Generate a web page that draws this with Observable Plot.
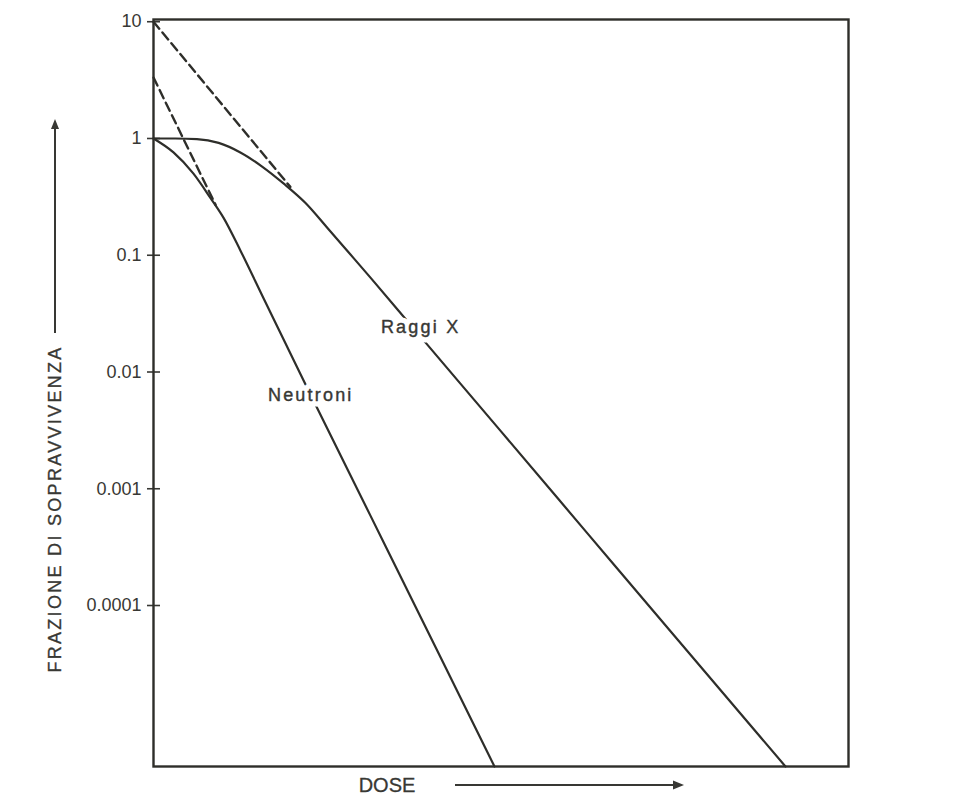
<!DOCTYPE html>
<html>
<head>
<meta charset="utf-8">
<script src="https://cdn.jsdelivr.net/npm/d3@7"></script>
<script src="https://cdn.jsdelivr.net/npm/@observablehq/plot@0.6"></script>
<style>
  body { margin: 0; background: #fff; }
  #chart svg { display: block; }
</style>
</head>
<body>
<div id="chart"></div>
<script>
// Survival curves (fraction surviving vs dose) for X-rays and neutrons
const xrayDose = [0, 0.5, 1, 1.5, 2, 2.5, 3, 3.5, 4, 4.5, 5, 6, 8, 10, 12, 14.55];
const xraySurvival = [1, 0.9999, 0.989, 0.917, 0.759, 0.575, 0.41, 0.28, 0.172, 0.105, 0.064, 0.0233, 0.0031, 0.000411, 0.0000545, 0.00000418];

const neutronDose = [0, 0.46, 0.92, 1.31, 1.61, 2.0, 2.53, 3.5, 5, 6.5, 7.85];
const neutronSurvival = [1, 0.76, 0.50, 0.31, 0.21, 0.11, 0.043, 0.0078, 0.000583, 0.0000435, 0.00000418];

// Back-extrapolations of the straight (exponential) portions to zero dose
const xrayExtrapDose = [0, 3.15];
const xrayExtrapSurvival = [10, 0.385];
const neutronExtrapDose = [0, 1.43];
const neutronExtrapSurvival = [3.33, 0.27];

// Curve labels
const curveLabels = ["Raggi X", "Neutroni"];
const labelDose = [6.15, 3.62];
const labelSurvival = [0.024, 0.0063];

// Axis ticks
const yTicks = [10, 1, 0.1, 0.01, 0.001, 0.0001];
const yTickLabels = ["10", "1", "0.1", "0.01", "0.001", "0.0001"];

const ink = "#2e2e2a";
const textInk = "#383834";
const font = "'Liberation Sans', Arial, Helvetica, sans-serif";

const toRows = (xs, ys) => xs.map((x, i) => ({dose: x, s: ys[i]}));
const xray = toRows(xrayDose, xraySurvival);
const neutron = toRows(neutronDose, neutronSurvival);
const xrayExtrap = toRows(xrayExtrapDose, xrayExtrapSurvival);
const neutronExtrap = toRows(neutronExtrapDose, neutronExtrapSurvival);
const labels = curveLabels.map((t, i) => ({text: t, dose: labelDose[i], s: labelSurvival[i]}));

const W = 962, H = 811;
const labelStyle = {x: "dose", y: "s", text: "text", fontSize: 18};

const plot = Plot.plot({
  width: W,
  height: H,
  marginLeft: 153,
  marginRight: 114,
  marginTop: 19,
  marginBottom: 45,
  style: {fontFamily: font, color: textInk, background: "#fff"},
  x: {domain: [0, 16], axis: null},
  y: {type: "log", domain: [4.18e-6, 10.45]},
  marks: [
    Plot.axisY(yTicks, {
      anchor: "left",
      tickSize: 13,
      dx: 7,
      tickPadding: 6,
      fontSize: 18,
      strokeWidth: 1.6,
      label: null,
      tickFormat: d => yTickLabels[yTicks.indexOf(d)]
    }),
    Plot.line(xrayExtrap, {x: "dose", y: "s", stroke: ink, strokeWidth: 2.4, strokeDasharray: "9,5"}),
    Plot.line(neutronExtrap, {x: "dose", y: "s", stroke: ink, strokeWidth: 2.4, strokeDasharray: "9,5"}),
    Plot.line(xray, {x: "dose", y: "s", stroke: ink, strokeWidth: 2.2, curve: "monotone-x"}),
    Plot.line(neutron, {x: "dose", y: "s", stroke: ink, strokeWidth: 2.2, curve: "monotone-x"}),
    // white halo that breaks the curves behind each label
    Plot.text(labels, {...labelStyle, fill: "#fff", stroke: "#fff", strokeWidth: 11}),
    Plot.text(labels, {...labelStyle, fill: textInk, stroke: textInk, strokeWidth: 0.4}),
    Plot.frame({stroke: ink, strokeWidth: 2.4})
  ]
});

document.getElementById("chart").appendChild(plot);

const svg = d3.select(plot);
// letter spacing for the curve labels
svg.selectAll("text").filter(function () {
  return this.textContent === "Raggi X" || this.textContent === "Neutroni";
}).attr("letter-spacing", "2.2px");

// Axis titles with their arrows, outside the plot frame
const g = svg.append("g").attr("fill", textInk).attr("stroke", "none");

// Vertical title
g.append("text")
  .attr("transform", "translate(61,509) rotate(-90)")
  .attr("text-anchor", "middle")
  .attr("font-size", 18)
  .attr("letter-spacing", "2.3px")
  .attr("font-family", font)
  .attr("stroke", textInk).attr("stroke-width", 0.3)
  .text("FRAZIONE DI SOPRAVVIVENZA");
g.append("line")
  .attr("x1", 55).attr("x2", 55).attr("y1", 333).attr("y2", 126)
  .attr("stroke", textInk).attr("stroke-width", 2);
g.append("path").attr("d", "M55,119 L51,129 L59,129 Z");

// Horizontal title
g.append("text")
  .attr("x", 387).attr("y", 792)
  .attr("font-size", 20)
  .attr("font-family", font)
  .attr("stroke", textInk).attr("stroke-width", 0.3)
  .text("DOSE");
g.append("line")
  .attr("x1", 455).attr("x2", 675).attr("y1", 785).attr("y2", 785)
  .attr("stroke", textInk).attr("stroke-width", 2);
g.append("path").attr("d", "M684,785 L673,780.5 L673,789.5 Z");
</script>
</body>
</html>
